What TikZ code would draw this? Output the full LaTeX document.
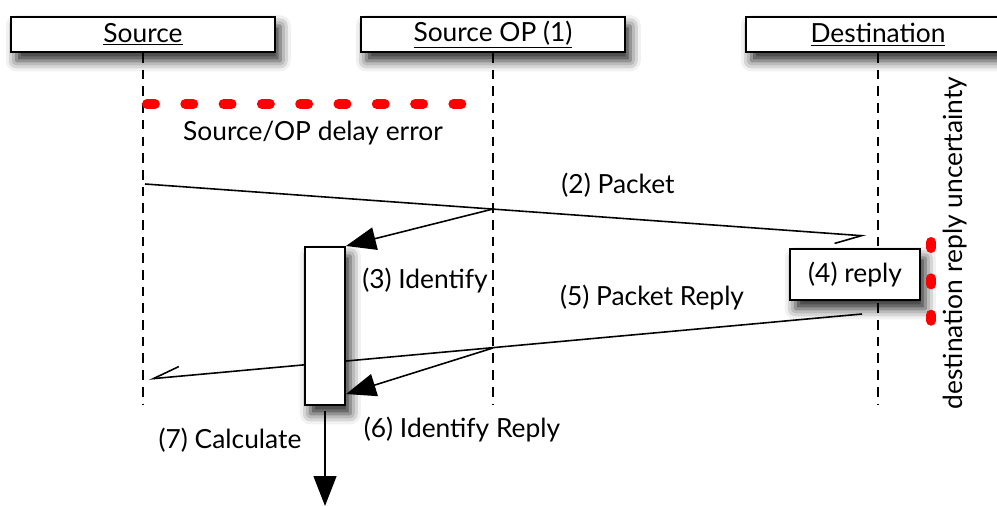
\documentclass[tikz,border=0pt]{standalone}
\usepackage{fontspec}
\setmainfont{Lato}
\usetikzlibrary{arrows.meta,shadows.blur,positioning,calc}

\begin{document}
\begin{tikzpicture}[x=0.02cm,y=-0.02cm,
    font=\fontsize{15}{18}\selectfont,
    shade/.style={blur shadow={shadow xshift=3pt,shadow yshift=-5pt,shadow blur radius=6pt,shadow opacity=85}},
    actor/.style={draw,line width=1.2pt,fill=white,minimum width=5.28cm,minimum height=0.7cm,inner sep=0pt,shade},
    lifeline/.style={line width=0.9pt,dash pattern=on 5.5pt off 4pt},
    msg/.style={line width=0.9pt,-{Straight Barb[right,length=15pt,width=11pt]}},
    call/.style={line width=0.9pt,-{Triangle[length=17pt,width=13pt]}},
    errline/.style={red,line width=5.7pt,line cap=round,dash pattern=on 4.5pt off 17.3pt}]
\useasboundingbox (0,0) rectangle (997,506);

\node[actor] (src) at (143,34.5) {\underline{Source}};
\node[actor] (op) at (493,34.5) {\underline{Source OP (1)}};
\node[actor] (dst) at (878,34.5) {\underline{Destination}};

\coordinate (srcend) at (143,405);
\coordinate (opend) at (493,405);
\coordinate (dstend) at (878,405);
\draw[lifeline] (src.south) -- (srcend);
\draw[lifeline] (op.south) -- (opend);
\draw[lifeline] (dst.south) -- (dstend);

\coordinate (delay1) at (147,104);
\coordinate (delay2) at (465,104);
\draw[errline] (delay1) -- (delay2);
\node (ldelay) at (313,133) {Source/OP delay error};

\coordinate (pkt) at (145,184);
\coordinate (pktop) at (493,209);
\coordinate (pktend) at (866,236);
\draw[msg] (pkt) -- (pktend);
\node (lpkt) at (618,185) {(2) Packet};

\coordinate (rep) at (862,314);
\coordinate (repop) at (493,348);
\coordinate (repend) at (149,379);
\draw[msg] (rep) -- (repend);
\node (lrep) at (652,298) {(5) Packet Reply};

\node[draw,line width=1.2pt,fill=white,minimum width=0.8cm,minimum height=3.16cm,shade] (calc) at (325,326) {};
\node[draw,line width=1.2pt,fill=white,minimum width=2.6cm,minimum height=1.02cm,shade] (reply) at (855,274.5) {(4) reply};

\draw[call] (pktop) -- (calc.north east);
\node (lid) at (425,281) {(3) Identify};
\draw[call] (repop) -- ([yshift=0.24cm]calc.south east);
\node (lidrep) at (462,430) {(6) Identify Reply};

\coordinate (calcend) at (325,506);
\draw[call] ([yshift=-0.1cm]calc.south) -- (calcend);
\node (lcalc) at (230,440) {(7) Calculate};

\coordinate (unc1) at (931,242);
\coordinate (unc2) at (931,322);
\draw[errline,dash pattern=on 3.4pt off 17.3pt] (unc1) -- (unc2);
\node[rotate=90] (lunc) at (955,243) {destination reply uncertainty};
\end{tikzpicture}
\end{document}
